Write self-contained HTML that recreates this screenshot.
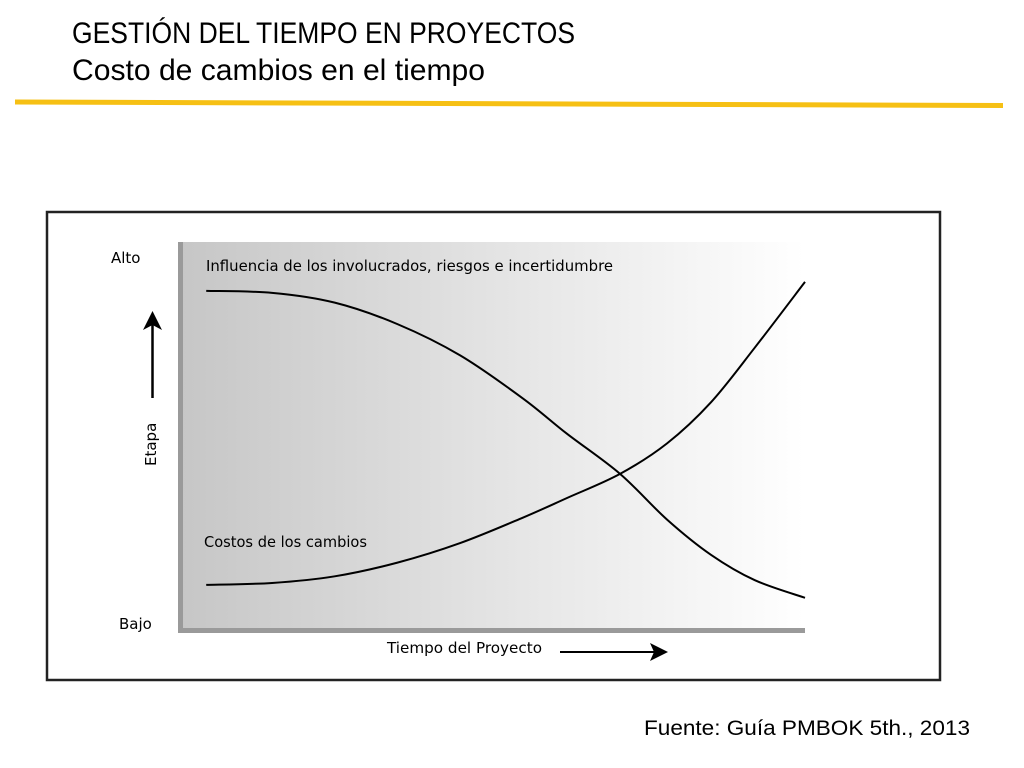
<!DOCTYPE html>
<html><head><meta charset="utf-8"><style>
html,body{margin:0;padding:0;background:#fff;}
svg{display:block;}
</style></head><body>
<svg id="chart" width="1024" height="768" viewBox="0 0 1024 768" xmlns="http://www.w3.org/2000/svg">
<defs>
<linearGradient id="bg" x1="0" x2="1" y1="0" y2="0">
<stop offset="0" stop-color="#c6c6c6"/>
<stop offset="0.55" stop-color="#e6e6e6"/>
<stop offset="1" stop-color="#ffffff"/>
</linearGradient>
</defs>
<text x="72" y="43" font-family="Liberation Sans, sans-serif" font-size="30" textLength="503" lengthAdjust="spacingAndGlyphs" fill="#000">GESTIÓN DEL TIEMPO EN PROYECTOS</text>
<text x="72" y="80" font-family="Liberation Sans, sans-serif" font-size="30" textLength="413" lengthAdjust="spacingAndGlyphs" fill="#000">Costo de cambios en el tiempo</text>
<line x1="15" y1="102" x2="1003" y2="105.5" stroke="#f6c014" stroke-width="5"/>
<rect x="47" y="212" width="893" height="468" fill="#fff" stroke="#222" stroke-width="2.5"/>
<rect x="178" y="242" width="627" height="391" fill="url(#bg)"/>
<rect x="178" y="242" width="5" height="391" fill="#9a9a9a"/>
<rect x="178" y="628" width="627" height="5" fill="#9a9a9a"/>
<text x="111" y="263" font-family="DejaVu Sans, sans-serif" font-size="15" fill="#000">Alto</text>
<text x="119" y="629" font-family="DejaVu Sans, sans-serif" font-size="15" fill="#000">Bajo</text>
<text transform="translate(156,466) rotate(-90)" font-family="DejaVu Sans, sans-serif" font-size="15" fill="#000">Etapa</text>
<g>
<line x1="152.5" y1="398" x2="152.5" y2="322" stroke="#000" stroke-width="2.5"/>
<polygon points="152.5,311 143,330 152.5,325 162,330" fill="#000"/>
</g>
<text x="387" y="653" font-family="DejaVu Sans, sans-serif" font-size="15" textLength="155" lengthAdjust="spacingAndGlyphs" fill="#000">Tiempo del Proyecto</text>
<g>
<line x1="560" y1="652" x2="656" y2="652" stroke="#000" stroke-width="2"/>
<polygon points="668,652 650,643 654,652 650,661" fill="#000"/>
</g>
<text x="206" y="271" font-family="DejaVu Sans, sans-serif" font-size="15" textLength="407" lengthAdjust="spacingAndGlyphs" fill="#000">Influencia de los involucrados, riesgos e incertidumbre</text>
<text x="204" y="547" font-family="DejaVu Sans, sans-serif" font-size="15" textLength="163" lengthAdjust="spacingAndGlyphs" fill="#000">Costos de los cambios</text>
<g id="series"></g>
</svg>
<script>
const timeInfluence = [4.5, 15, 25, 35, 45, 55, 62, 70.5, 78, 85, 92, 100];
const valuesInfluence = [87.5, 87, 84.5, 79, 71, 60, 51, 40.7, 29, 20, 13.5, 9];
const timeCost = [4.5, 15, 25, 35, 45, 55, 62, 70.5, 78, 85, 92, 100];
const valuesCost = [12.3, 12.8, 14.5, 18, 23, 29.5, 34.5, 40.7, 48.5, 59, 73, 89.8];

function xScale(t){ return 178 + t / 100 * 627; }
function yScale(v){ return 633 - v / 100 * 391; }
function smoothPath(xs, ys){
  const p = xs.map((t,i)=>[xScale(t), yScale(ys[i])]);
  let d = 'M' + p[0][0] + ',' + p[0][1];
  for (let i=0;i<p.length-1;i++){
    const p0 = p[i-1]||p[i], p1=p[i], p2=p[i+1], p3=p[i+2]||p2;
    const c1x=p1[0]+(p2[0]-p0[0])/6, c1y=p1[1]+(p2[1]-p0[1])/6;
    const c2x=p2[0]-(p3[0]-p1[0])/6, c2y=p2[1]-(p3[1]-p1[1])/6;
    d += ' C'+c1x+','+c1y+' '+c2x+','+c2y+' '+p2[0]+','+p2[1];
  }
  return d;
}
const g = document.getElementById('series');
const ns = 'http://www.w3.org/2000/svg';
const l1 = document.createElementNS(ns,'path');
l1.setAttribute('d', smoothPath(timeInfluence, valuesInfluence));
l1.setAttribute('fill','none'); l1.setAttribute('stroke','#000'); l1.setAttribute('stroke-width','2');


g.appendChild(l1);
const l2 = document.createElementNS(ns,'path');
l2.setAttribute('d', smoothPath(timeCost, valuesCost));
l2.setAttribute('fill','none'); l2.setAttribute('stroke','#000'); l2.setAttribute('stroke-width','2');


g.appendChild(l2);
</script>
<svg style="position:absolute;left:0;top:700px" width="1024" height="50">
<text x="644" y="35" font-family="Liberation Sans, sans-serif" font-size="21" textLength="326" lengthAdjust="spacingAndGlyphs" fill="#000">Fuente: Guía PMBOK 5th., 2013</text>
</svg>
</body></html>
